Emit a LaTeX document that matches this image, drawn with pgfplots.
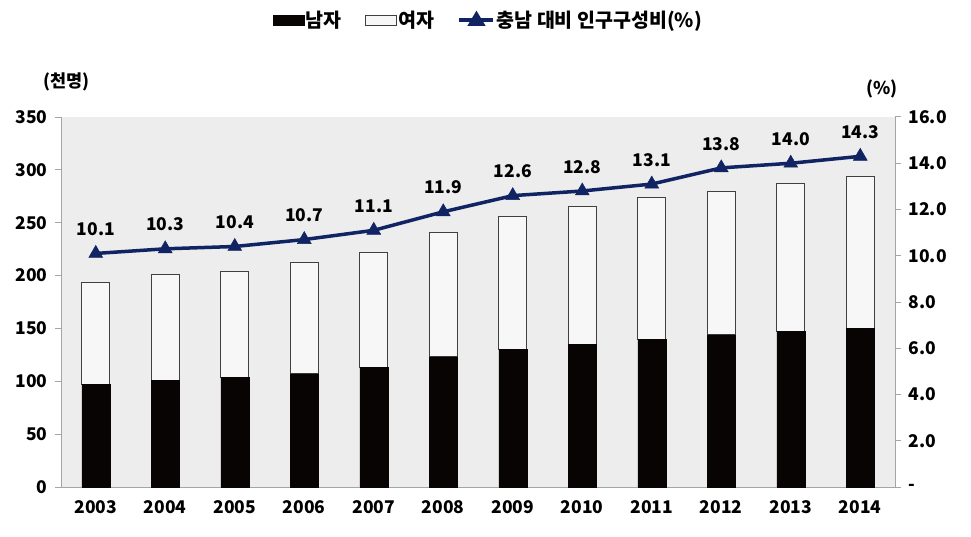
\documentclass[border=0pt]{standalone}
\usepackage{pgfplots}
\pgfplotsset{compat=1.18}
\usepackage{fontspec}
\setmainfont{Noto Sans CJK KR}
\definecolor{navy}{RGB}{16,36,100}
\definecolor{axgray}{RGB}{165,165,165}
\definecolor{bg}{RGB}{237,237,237}
\definecolor{fem}{RGB}{247,247,247}
\definecolor{male}{RGB}{8,4,4}
\newcommand{\lf}{\fontsize{17.5}{20}\selectfont\bfseries}
\newcommand{\legf}{\fontsize{19.5}{22}\selectfont\bfseries}
\begin{document}
\begin{tikzpicture}[font=\lf]
\useasboundingbox (-61pt,-49pt) rectangle (910pt,487pt);
\begin{axis}[
 at={(0,0)}, anchor=south west,
 scale only axis, width=834pt, height=370pt,
 ymin=0, ymax=350, ytick={0,50,...,350},
 xmin=-0.5, xmax=11.5,
 xtick={0,...,11},
 xticklabels={2003,2004,2005,2006,2007,2008,2009,2010,2011,2012,2013,2014},
 minor xtick={-0.5,0.5,...,11.5},
 axis x line*=bottom, axis y line*=left,
 axis line style={axgray, line width=1pt},
 xtick style={draw=none},
 ytick style={axgray, line width=1pt},
 minor tick style={axgray, line width=1pt},
 tick align=outside, major tick length=6pt, minor tick length=6pt,
 tick label style={font=\lf},
 /pgf/number format/assume math mode=true,
 xticklabel style={yshift=-4pt},
 yticklabel style={xshift=-4pt},
 axis background/.style={fill=bg},
 ybar stacked, bar width=28pt,
 clip=false,
]
\addplot[fill=male, draw=male] coordinates {(0,97) (1,101) (2,104) (3,107) (4,113) (5,123) (6,130) (7,135) (8,140) (9,144) (10,147) (11,150)};
\addplot[fill=fem, draw=black!75, line width=1pt] coordinates {(0,96) (1,100) (2,100) (3,105) (4,109) (5,118) (6,126) (7,130) (8,134) (9,136) (10,140) (11,144)};
\node[font=\lf] at (rel axis cs:0.007,1.095) {(천명)};
\end{axis}
\begin{axis}[
 at={(0,0)}, anchor=south west,
 scale only axis, width=834pt, height=370pt,
 ymin=0, ymax=16, ytick={0,2,...,16},
 yticklabels={-,2.0,4.0,6.0,8.0,10.0,12.0,14.0,16.0},
 xmin=-0.5, xmax=11.5,
 axis x line=none, axis y line*=right,
 axis line style={axgray, line width=1pt},
 ytick style={axgray, line width=1pt},
 tick align=outside, major tick length=6pt,
 tick label style={font=\lf},
 /pgf/number format/assume math mode=true,
 yticklabel style={xshift=4pt},
 clip=false,
 legend style={at={(rel axis cs:0.512,1.262)}, anchor=center, draw=none, fill=none,
   font=\legf, legend columns=3, nodes={inner xsep=1.5pt},
   /tikz/every even column/.append style={column sep=22pt}},
 legend cell align=left,
]
\addlegendimage{legend image code/.code={\draw[fill=male,draw=male] (0pt,-5pt) rectangle (31pt,5pt);}}
\addlegendentry{남자}
\addlegendimage{legend image code/.code={\draw[fill=fem,draw=black!75,line width=1pt] (0pt,-5pt) rectangle (31pt,5pt);}}
\addlegendentry{여자}
\addplot[navy, line width=3.5pt, mark=triangle*, mark size=8pt, mark options={line width=0.5pt},
 nodes near coords={\pgfmathprintnumber[fixed,fixed zerofill,precision=1,assume math mode=true]{\pgfplotspointmeta}},
 every node near coord/.append style={font=\lf, black, anchor=south, yshift=14pt},
 legend image code/.code={\draw[navy,line width=3.5pt] (0pt,0pt) -- (34pt,0pt); \fill[navy] (11pt,-4pt) -- (17pt,6pt) -- (23pt,-4pt) -- cycle;}]
 coordinates {(0,10.1) (1,10.3) (2,10.4) (3,10.7) (4,11.1) (5,11.9) (6,12.6) (7,12.8) (8,13.1) (9,13.8) (10,14.0) (11,14.3)};
\addlegendentry{충남 대비 인구구성비(\%)}
\node[font=\lf] at (rel axis cs:0.984,1.076) {(\%)};
\end{axis}
\end{tikzpicture}
\end{document}
